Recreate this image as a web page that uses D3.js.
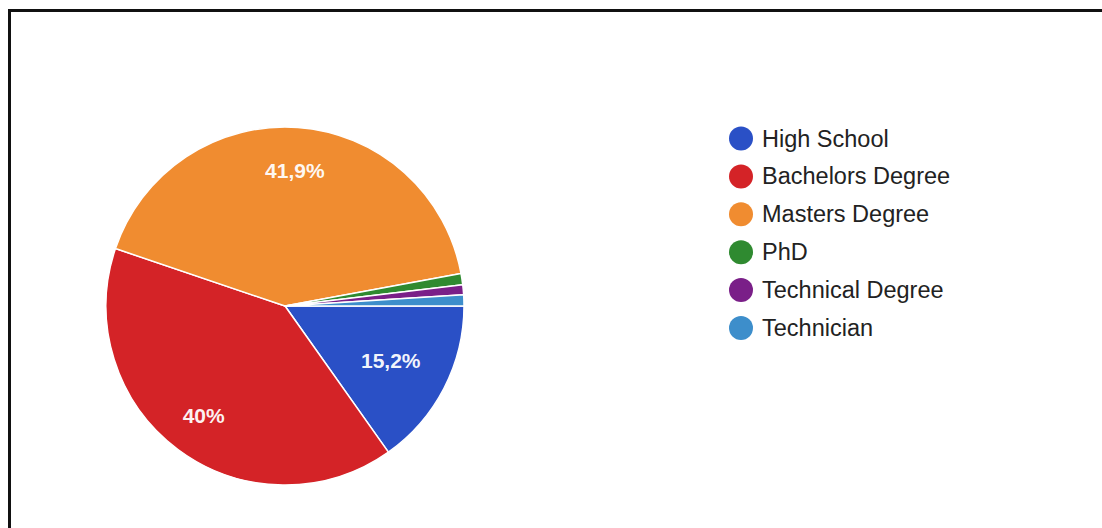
<!DOCTYPE html>
<html>
<head>
<meta charset="utf-8">
<script src="https://cdn.jsdelivr.net/npm/d3@7"></script>
<style>
  html, body { margin: 0; padding: 0; background: #fff; }
  svg { display: block; }
</style>
</head>
<body>
<svg id="chart" width="1102" height="528"></svg>
<script>
// Education level of respondents (percent)
const categories = ["High School", "Bachelors Degree", "Masters Degree", "PhD", "Technical Degree", "Technician"];
const values = [15.2, 40, 41.9, 1.0, 0.9, 1.0];
const valueLabels = ["15,2%", "40%", "41,9%", "", "", ""];
const colors = ["#2a50c6", "#d42327", "#f08c30", "#2f8a30", "#7a1f88", "#3d8ecb"];

const svg = d3.select("#chart");

// frame edge along the top and left
svg.append("path")
  .attr("d", "M9.5,528 L9.5,10.5 L1102,10.5")
  .attr("fill", "none")
  .attr("stroke", "#111")
  .attr("stroke-width", 3);

const cx = 285, cy = 306, R = 179;
const g = svg.append("g").attr("transform", `translate(${cx},${cy})`);

const pie = d3.pie()
  .sort(null)
  .value(d => d.v)
  .startAngle(Math.PI / 2)
  .endAngle(Math.PI / 2 + 2 * Math.PI);

const data = categories.map((c, i) => ({ name: c, v: values[i], label: valueLabels[i], color: colors[i] }));
const arcs = pie(data);

const arc = d3.arc().innerRadius(0).outerRadius(R);

g.selectAll("path.slice")
  .data(arcs)
  .join("path")
  .attr("class", "slice")
  .attr("d", arc)
  .attr("fill", d => d.data.color)
  .attr("stroke", "#fff")
  .attr("stroke-width", 1.5)
  .attr("stroke-linejoin", "round");

// slice labels: wide slices sit further out, narrower ones are pulled in
g.selectAll("text.pct")
  .data(arcs.filter(d => d.data.label))
  .join("text")
  .attr("class", "pct")
  .attr("transform", d => {
    const span = d.endAngle - d.startAngle;
    const r = span > Math.PI / 2 ? R * 0.76 : R * 0.665;
    const a = (d.startAngle + d.endAngle) / 2;
    return `translate(${r * Math.sin(a)},${-r * Math.cos(a)})`;
  })
  .attr("text-anchor", "middle")
  .attr("dominant-baseline", "central")
  .attr("font-family", "Arial, 'Liberation Sans', sans-serif")
  .attr("font-size", 21)
  .attr("font-weight", "bold")
  .attr("fill", "#fff")
  .attr("fill-opacity", 0.95)
  .text(d => d.data.label);

// legend
const legend = svg.append("g").attr("transform", "translate(741,138.5)");
const y = d3.scalePoint().domain(categories).range([0, 37.9 * (categories.length - 1)]);

const item = legend.selectAll("g.item")
  .data(data)
  .join("g")
  .attr("class", "item")
  .attr("transform", d => `translate(0,${y(d.name)})`);

item.append("circle")
  .attr("r", 12)
  .attr("fill", d => d.color);

item.append("text")
  .attr("x", 21)
  .attr("dominant-baseline", "central")
  .attr("font-family", "Arial, 'Liberation Sans', sans-serif")
  .attr("font-size", 23.5)
  .attr("fill", "#222")
  .text(d => d.name);
</script>
</body>
</html>
